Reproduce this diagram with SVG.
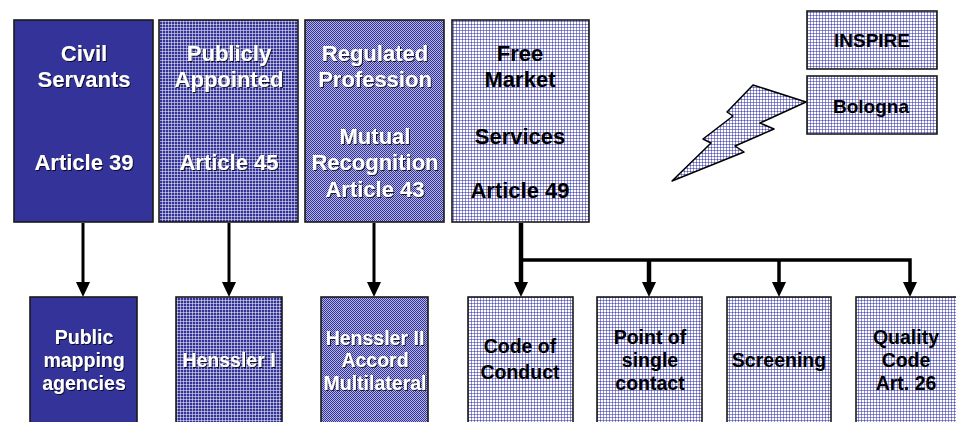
<svg xmlns="http://www.w3.org/2000/svg" width="956" height="422" viewBox="0 0 956 422">
  <defs>
    <!-- dark blue with a fine white grid -->
    <pattern id="gridDark" width="3" height="3" patternUnits="userSpaceOnUse">
      <rect width="3" height="3" fill="#333399"/>
      <rect width="3" height="1" fill="#ffffff" fill-opacity="0.5"/>
      <rect width="1" height="3" fill="#ffffff" fill-opacity="0.5"/>
    </pattern>
    <!-- medium blue checkerboard -->
    <pattern id="check" width="2" height="2" patternUnits="userSpaceOnUse">
      <rect width="2" height="2" fill="#b4b4e0"/>
      <rect width="1" height="1" fill="#333399"/>
      <rect x="1" y="1" width="1" height="1" fill="#333399"/>
    </pattern>
    <!-- white with a fine lavender grid -->
    <pattern id="gridLight" width="3" height="3" patternUnits="userSpaceOnUse">
      <rect width="3" height="3" fill="#ffffff"/>
      <rect width="3" height="1" fill="#9494d4"/>
      <rect width="1" height="3" fill="#9494d4"/>
      <rect width="1" height="1" fill="#5a5ab0"/>
    </pattern>
    <marker id="head" viewBox="0 0 14 14" refX="7" refY="14" markerWidth="14" markerHeight="14" markerUnits="userSpaceOnUse" orient="auto-start-reverse">
      <path d="M0,0 L14,0 L7,14 Z" fill="#000"/>
    </marker>
    <filter id="shadow" x="-10%" y="-10%" width="120%" height="130%">
      <feDropShadow dx="1" dy="1" stdDeviation="0.4" flood-color="#000" flood-opacity="0.8"/>
    </filter>
  </defs>
  <style>
    .box { stroke: #1a1a1a; stroke-width: 1.6; }
    .t { font-family: "Liberation Sans", Arial, sans-serif; font-weight: bold; text-anchor: middle; }
    .big { font-size: 22px; }
    .small { font-size: 19.5px; }
    .tag { font-size: 19px; }
    .w { fill: #ffffff; filter: url(#shadow); }
    .k { fill: #000000; }
    .conn { stroke: #000; fill: none; }
  </style>

  <rect width="956" height="422" fill="#ffffff"/>

  <!-- connectors -->
  <g id="connectors">
    <line class="conn" x1="83" y1="223" x2="83" y2="283" stroke-width="3"/>
    <path d="M76,282 L90,282 L83,297 Z"/>
    <line class="conn" x1="229" y1="223" x2="229" y2="283" stroke-width="3"/>
    <path d="M222,282 L236,282 L229,297 Z"/>
    <line class="conn" x1="374" y1="223" x2="374" y2="283" stroke-width="3"/>
    <path d="M367,282 L381,282 L374,297 Z"/>
    <line class="conn" x1="521" y1="223" x2="521" y2="283" stroke-width="4.5"/>
    <polyline class="conn" points="521,260 910,260 910,283" stroke-width="3.5"/>
    <line class="conn" x1="649" y1="260" x2="649" y2="283" stroke-width="4.5"/>
    <line class="conn" x1="779" y1="260" x2="779" y2="283" stroke-width="3.5"/>
    <path d="M514,282 L528,282 L521,297 Z"/>
    <path d="M642,282 L656,282 L649,297 Z"/>
    <path d="M772,282 L786,282 L779,297 Z"/>
    <path d="M903,282 L917,282 L910,297 Z"/>
  </g>

  <!-- top row -->
  <g id="civil-servants">
    <rect class="box" x="14" y="20" width="139" height="202" fill="#333399"/>
    <text class="t big w" x="84" y="61">Civil</text>
    <text class="t big w" x="84" y="87">Servants</text>
    <text class="t big w" x="84" y="170">Article 39</text>
  </g>
  <g id="publicly-appointed">
    <rect class="box" x="159" y="20" width="139" height="202" fill="url(#gridDark)"/>
    <text class="t big w" x="229" y="61">Publicly</text>
    <text class="t big w" x="229" y="87">Appointed</text>
    <text class="t big w" x="229" y="170">Article 45</text>
  </g>
  <g id="regulated-profession">
    <rect class="box" x="305" y="20" width="139" height="202" fill="url(#check)"/>
    <text class="t big w" x="375" y="61">Regulated</text>
    <text class="t big w" x="375" y="87">Profession</text>
    <text class="t big w" x="375" y="144">Mutual</text>
    <text class="t big w" x="375" y="170">Recognition</text>
    <text class="t big w" x="375" y="197">Article 43</text>
  </g>
  <g id="free-market">
    <rect class="box" x="452" y="20" width="137" height="202" fill="url(#gridLight)"/>
    <text class="t big k" x="520" y="61">Free</text>
    <text class="t big k" x="520" y="87">Market</text>
    <text class="t big k" x="520" y="144">Services</text>
    <text class="t big k" x="520" y="198">Article 49</text>
  </g>

  <!-- side notes -->
  <g id="inspire">
    <rect class="box" x="807" y="11" width="130" height="58" fill="url(#gridLight)"/>
    <text class="t tag k" x="872" y="47">INSPIRE</text>
  </g>
  <g id="bologna">
    <rect class="box" x="807" y="76" width="130" height="58" fill="url(#gridLight)"/>
    <text class="t tag k" x="871" y="113">Bologna</text>
  </g>
  <g id="lightning">
    <path d="M753,85 L806,102 L760,123 L774,129 L735,146 L744,152 L672,181 L711,143 L703,139 L733,116 L727,112 Z" fill="url(#gridLight)" stroke="#000" stroke-width="1.5" stroke-linejoin="round"/>
  </g>

  <!-- bottom row -->
  <g id="public-mapping-agencies">
    <rect class="box" x="30" y="297" width="107" height="135" fill="#333399"/>
    <text class="t small w" x="84" y="344">Public</text>
    <text class="t small w" x="84" y="367">mapping</text>
    <text class="t small w" x="84" y="390">agencies</text>
  </g>
  <g id="henssler-1">
    <rect class="box" x="176" y="297" width="106" height="135" fill="url(#gridDark)"/>
    <text class="t small w" x="229" y="367">Henssler I</text>
  </g>
  <g id="henssler-2">
    <rect class="box" x="321" y="297" width="107" height="135" fill="url(#check)"/>
    <text class="t small w" x="375" y="345">Henssler II</text>
    <text class="t small w" x="375" y="367">Accord</text>
    <text class="t small w" x="375" y="390" textLength="103" lengthAdjust="spacingAndGlyphs">Multilateral</text>
  </g>
  <g id="code-of-conduct">
    <rect class="box" x="468" y="297" width="105" height="135" fill="url(#gridLight)"/>
    <text class="t small k" x="520" y="353">Code of</text>
    <text class="t small k" x="520" y="379">Conduct</text>
  </g>
  <g id="point-of-single-contact">
    <rect class="box" x="597" y="297" width="105" height="135" fill="url(#gridLight)"/>
    <text class="t small k" x="650" y="344">Point of</text>
    <text class="t small k" x="650" y="367">single</text>
    <text class="t small k" x="650" y="390">contact</text>
  </g>
  <g id="screening">
    <rect class="box" x="727" y="297" width="104" height="135" fill="url(#gridLight)"/>
    <text class="t small k" x="779" y="367">Screening</text>
  </g>
  <g id="quality-code">
    <rect class="box" x="856" y="297" width="103" height="135" fill="url(#gridLight)"/>
    <text class="t small k" x="906" y="344">Quality</text>
    <text class="t small k" x="906" y="367">Code</text>
    <text class="t small k" x="906" y="390">Art. 26</text>
  </g>
</svg>
